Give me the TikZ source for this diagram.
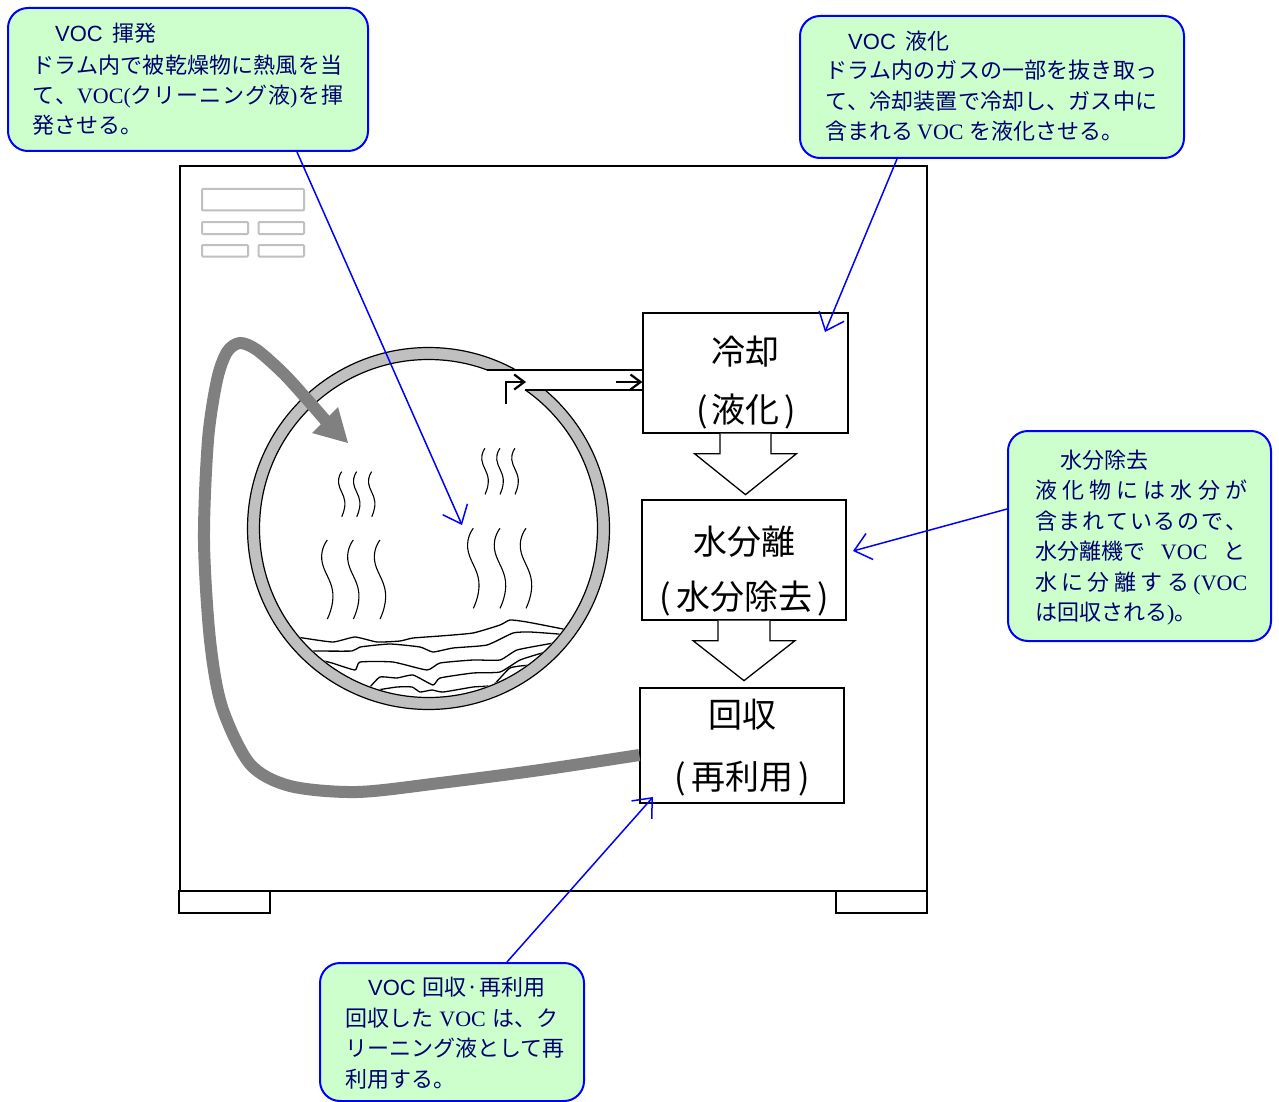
\documentclass[tikz,border=0pt]{standalone}
\usepackage{fontspec}
\newfontfamily\jp{Noto Sans CJK JP}
\newfontfamily\vocserif{Liberation Serif}
\newfontfamily\vocsans{Liberation Sans}
\usetikzlibrary{arrows.meta,calc}
\definecolor{notefill}{HTML}{CCFFCC}
\definecolor{noteedge}{HTML}{0000FF}
\definecolor{notetext}{HTML}{000070}
\definecolor{ringgray}{HTML}{C0C0C0}
\definecolor{loopgray}{HTML}{808080}
\definecolor{panelgray}{HTML}{C0C0C0}

\begin{document}
\begin{tikzpicture}[x=1pt,y=-1pt,
  note/.style={draw=noteedge, line width=2, fill=notefill, rounded corners=20, inner sep=0},
  ntx/.style={anchor=base west, inner sep=0, text=notetext, font=\jp\fontsize{22}{26}\selectfont},
  stage/.style={draw, line width=1.3, fill=white, inner sep=0},
  stx/.style={anchor=base, inner sep=0, font=\jp\fontsize{34}{40}\selectfont},
  lead/.style={draw=blue, line width=1.5, -{Straight Barb[length=16pt,width=27pt]}},
  flow/.style={line width=2.2, -{Straight Barb[length=10pt,width=15pt]}},
  blockarrow/.style={draw, line width=1.3, fill=white},
  cloth/.style={line width=1.3},
  panelbox/.style={draw=panelgray, line width=2, rounded corners=1},
  wisp/.pic={\draw[line width=1.1] plot[smooth,tension=0.8] coordinates {(0,0) (-0.07,0.25) (0.07,0.67) (0,1)};}
]
\useasboundingbox (0,0) rectangle (1279,1102);
\fill[white] (0,0) rectangle (1279,1102);

% machine housing, feet and control panel
\draw[line width=1.3] (180,166) rectangle (927,891);
\draw[line width=1.3] (179,891) rectangle (270,913);
\draw[line width=1.3] (836,891) rectangle (927,913);
\draw[panelbox] (202,189) rectangle (304,210.5);
\draw[panelbox] (202,222) rectangle (248,234);
\draw[panelbox] (258.5,222) rectangle (304,234);
\draw[panelbox] (202,245) rectangle (248,256.5);
\draw[panelbox] (258.5,245) rectangle (304,256.5);

% drum
\coordinate (dc) at (428.5,528.5);
\fill[ringgray, even odd rule] (dc) circle[radius=181] (dc) circle[radius=169];
\draw[line width=1.2] (dc) circle[radius=181];
\draw[line width=1.2] (dc) circle[radius=169];

% laundry layers at the bottom of the drum
\begin{scope}
\clip (dc) circle[radius=168];
\draw[cloth] plot[smooth,tension=0.3] coordinates {(290,636) (303,638) (333,642) (355,637) (377,642) (400,641) (413,638) (440,636) (473,633) (500,625) (510,620) (527,622) (563,629) (580,633)};
\draw[cloth] plot[smooth,tension=0.3] coordinates {(300,651) (315,651) (352,651) (360,647) (390,644) (420,647) (433,652) (453,648) (487,645) (513,633) (530,632) (558,634) (575,636)};
\draw[cloth] plot[smooth,tension=0.3] coordinates {(320,660) (332,663) (355,670) (360,662) (393,662) (427,670) (440,663) (473,660) (500,660) (517,650) (548,644) (565,641)};
\draw[cloth] plot[smooth,tension=0.3] coordinates {(362,695) (370,687) (380,677) (397,678) (413,675) (433,685) (440,678) (473,673) (500,672) (520,660) (542,653) (560,648)};
\draw[cloth] plot[smooth,tension=0.3] coordinates {(360,692) (377,690) (397,687) (412,687) (420,692) (432,690) (443,692) (473,687) (493,685) (510,668) (530,665) (550,663)};
\end{scope}

% rising vapour
\foreach \x in {341.7,356.7,371.7} \pic[xscale=45,yscale=45] at (\x,471.7) {wisp};
\foreach \x in {327.3,353.3,380} \pic[xscale=79,yscale=79] at (\x,540) {wisp};
\foreach \x in {485,500,515} \pic[xscale=46,yscale=46] at (\x,448.3) {wisp};
\foreach \x in {473.3,500,526} \pic[xscale=80,yscale=80] at (\x,528.3) {wisp};

% process stages
\node[stage, minimum width=205, minimum height=120] (b1) at (745.5,373) {};
\node[stage, minimum width=204, minimum height=120] (b2) at (744,560) {};
\node[stage, minimum width=204, minimum height=115] (b3) at (742,745.5) {};
\node[stx] (b1a) at (745,364) {冷却};
\node[stx] (b1b) at (746,422) {(\hspace{4pt}液化\hspace{4pt})};
\node[stx] (b2a) at (744,554) {水分離};
\node[stx] (b2b) at (744,609) {(\hspace{5pt}水分除去\hspace{5pt})};
\node[stx] (b3a) at (742,727) {回収};
\node[stx] (b3b) at (742,789) {(\hspace{5pt}再利用\hspace{5pt})};

% gas duct from the drum to the cooler
\fill[white] (487,370) rectangle (b1.west |- 0,390);
\draw[line width=1.3] (487,370) -- (b1.west |- 0,370);
\draw[line width=1.3] (525,390) -- (b1.west |- 0,390);
\coordinate (ductin) at (506,404);
\draw[flow] (ductin) -- (506,382) -- (526,382);
\coordinate (ductmid) at (616,382);
\draw[flow] (ductmid) -- (b1.west |- 0,382);

% block arrows between the stages
\draw[blockarrow] ($(b1.south)+(-25.5,0)$) -- ++(0,20) -- ++(-25.5,0) -- ++(51,41) -- ++(51,-41) -- ++(-25.5,0) -- ++(0,-20);
\draw[blockarrow] ($(b2.south)+(-26,0)$) -- ++(0,20) -- ++(-25,0) -- ++(51,40) -- ++(51,-40) -- ++(-25,0) -- ++(0,-20);

% recovered solvent returned to the drum
\coordinate (gstart) at ($(b3.west)+(0,9.5)$);
\draw[loopgray, line width=12] plot[smooth] coordinates {(gstart) (540,770) (440,783) (357,792) (290,786) (250,764) (222,707) (210,640) (204,540) (208,440) (217,380) (227,352) (240,343) (257,350) (283,373) (305,397) (326,421)};
\fill[loopgray] (348,443) -- (312,433) -- (338,407) -- cycle;

% explanatory notes
\node[note, minimum width=360, minimum height=143] (c1) at (188,79.5) {};
\node[note, minimum width=384, minimum height=142] (c2) at (992,87) {};
\node[note, minimum width=263, minimum height=210] (c3) at (1139.5,536) {};
\node[note, minimum width=264, minimum height=138] (c4) at (452,1032) {};

\node[ntx] (c1a) at (55,42) {{\vocsans VOC}\hspace{10pt}揮発};
\node[ntx] (c1b) at (32,73.5) {\makebox[310pt][s]{ド\hfil ラ\hfil ム\hfil 内\hfil で\hfil 被\hfil 乾\hfil 燥\hfil 物\hfil に\hfil 熱\hfil 風\hfil を\hfil 当}};
\node[ntx] (c1c) at (32,104) {\makebox[311pt][s]{て\hfil 、{\vocserif VOC(}ク\hfil リ\hfil ー\hfil ニ\hfil ン\hfil グ\hfil 液{\vocserif )}\hfil を\hfil 揮}};
\node[ntx] (c1d) at (32,134) {発させる。};

\node[ntx] (c2a) at (848,50) {{\vocsans VOC}\hspace{10pt}液化};
\node[ntx] (c2b) at (825,79) {\makebox[332pt][s]{ド\hfil ラ\hfil ム\hfil 内\hfil の\hfil ガ\hfil ス\hfil の\hfil 一\hfil 部\hfil を\hfil 抜\hfil き\hfil 取\hfil っ}};
\node[ntx] (c2c) at (825,109.5) {\makebox[332pt][s]{て\hfil 、\hfil 冷\hfil 却\hfil 装\hfil 置\hfil で\hfil 冷\hfil 却\hfil し\hfil 、\hfil ガ\hfil ス\hfil 中\hfil に}};
\node[ntx] (c2d) at (825,140) {含まれる\hspace{4pt}{\vocserif VOC}\hspace{6pt}を液化させる。};

\node[ntx] (c3a) at (1060,468) {水分除去};
\node[ntx] (c3b) at (1035,498.5) {\makebox[212pt][s]{液\hfil 化\hfil 物\hfil に\hfil は\hfil 水\hfil 分\hfil が}};
\node[ntx] (c3c) at (1035,529) {\makebox[212pt][s]{含\hfil ま\hfil れ\hfil て\hfil い\hfil る\hfil の\hfil で\hfil 、}};
\node[ntx] (c3d) at (1035,559.5) {\makebox[210pt][s]{水分離機で\hfil{\vocserif VOC}\hfil と}};
\node[ntx] (c3e) at (1035,590) {\makebox[212pt][s]{水\hfil に\hfil 分\hfil 離\hfil す\hfil る\hfil{\vocserif (VOC}}};
\node[ntx] (c3f) at (1035,620.5) {は回収される{\vocserif )}。};

\node[ntx] (c4a) at (368,995) {{\vocsans VOC}\hspace{7pt}回収·再利用};
\node[ntx] (c4b) at (345,1026) {\makebox[213pt][s]{回収した\hfil{\vocserif VOC}\hfil は、ク}};
\node[ntx] (c4c) at (345,1056) {リーニング液として再};
\node[ntx] (c4d) at (345,1087) {利用する。};

% leader lines from the notes
\coordinate (t1) at (462,525);
\coordinate (t2) at (825,332);
\coordinate (t3) at (853,551);
\coordinate (t4) at (653,797);
\draw[lead] ($(c1.south)+(109,0)$) -- (t1);
\draw[lead] ($(c2.south)+(-95,0)$) -- (t2);
\draw[lead] ($(c3.west)+(0,-27)$) -- (t3);
\draw[lead] ($(c4.north)+(55,0)$) -- (t4);
\end{tikzpicture}
\end{document}
